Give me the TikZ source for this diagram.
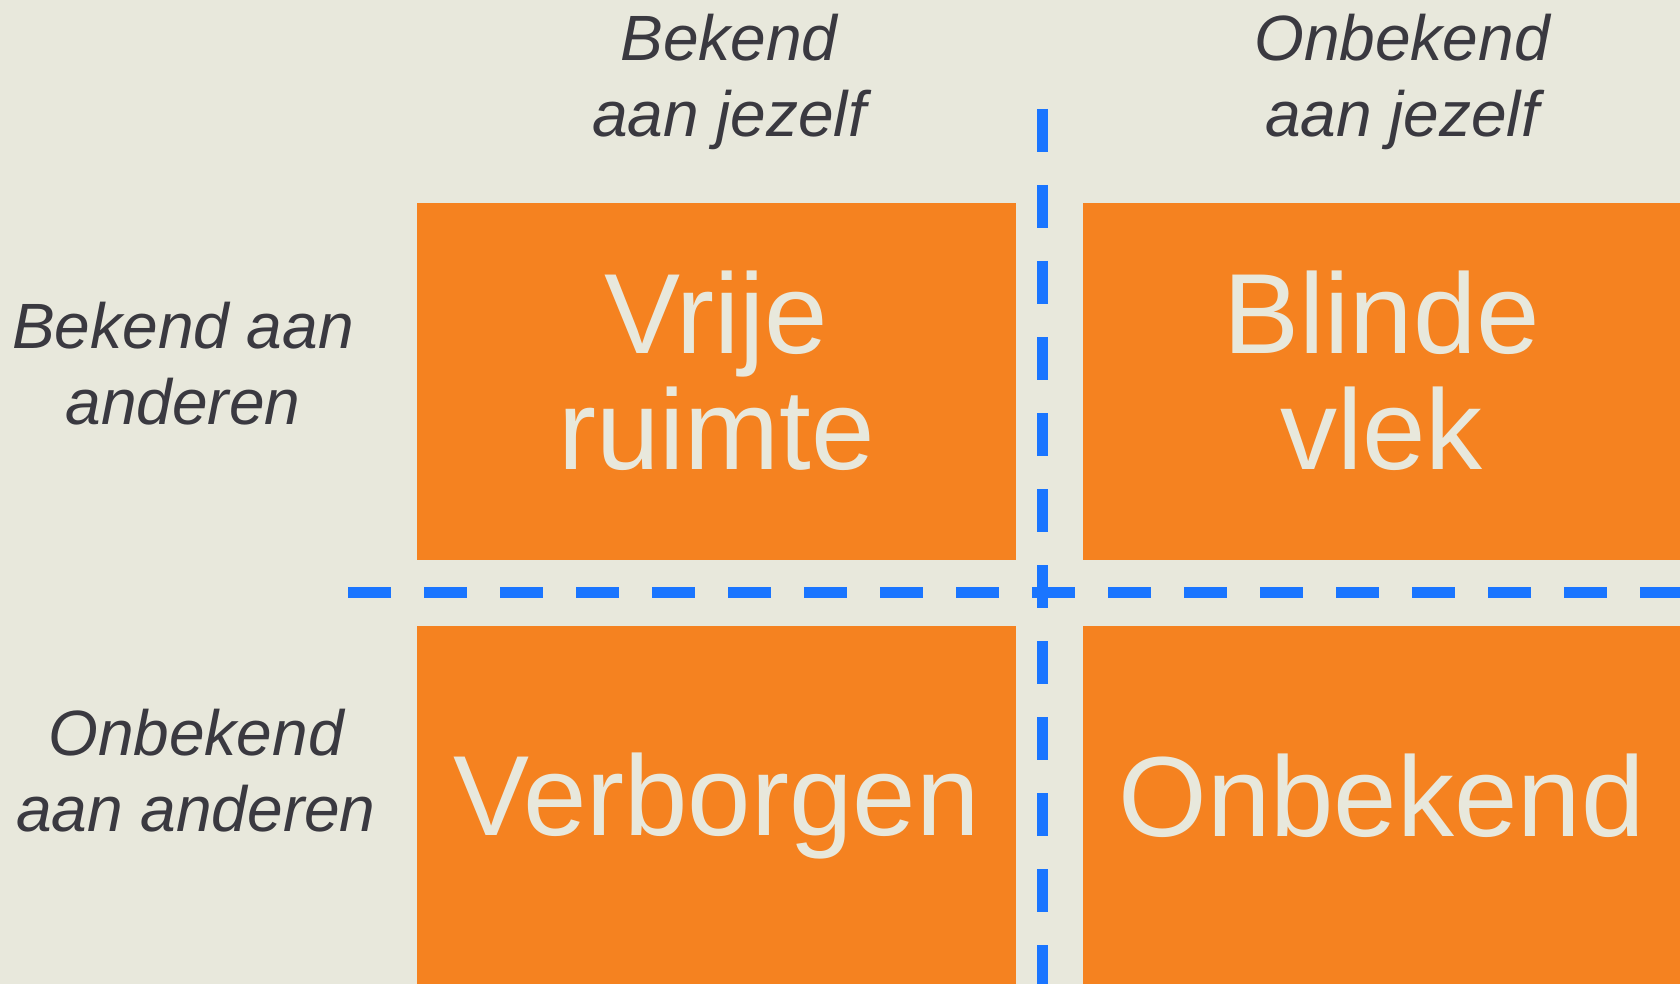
\documentclass[tikz,border=0pt]{standalone}
\usepackage{fontspec}
\setmainfont{Liberation Sans}
\usepackage{tikz}
\usetikzlibrary{positioning}

\definecolor{paper}{HTML}{E8E8DC}
\definecolor{quadorange}{HTML}{F58220}
\definecolor{lineblue}{HTML}{1A75FF}
\definecolor{inkgrey}{HTML}{3A3940}

\tikzset{
  quad/.style={fill=quadorange, inner sep=0pt},
  quadtext/.style={inner sep=0pt, text=paper, align=center,
    font=\fontsize{114}{116}\selectfont},
  side/.style={inner sep=0pt, text=inkgrey, align=center,
    font=\fontsize{64}{76}\selectfont\itshape},
  divider/.style={draw=lineblue, line width=11pt, dash pattern=on 43pt off 33pt}
}

\begin{document}
\begin{tikzpicture}[x=1pt, y=-1pt]

  % page and background
  \useasboundingbox (0,0) rectangle (1680,984);
  \fill[paper] (0,0) rectangle (1680,984);

  % --- the four quadrants ---
  \node[quad, minimum width=599pt, minimum height=357pt] (vrij)  at (716.5,381.5) {};
  \node[quad, minimum width=597pt, minimum height=357pt] (blind) at (1381.5,381.5) {};
  \node[quad, minimum width=599pt, minimum height=358pt] (verb)  at (716.5,805) {};
  \node[quad, minimum width=597pt, minimum height=358pt] (onb)   at (1381.5,805) {};

  \node[quadtext, yshift=11pt] (vrijtekst)  at (vrij)  {Vrije\\ruimte};
  \node[quadtext, yshift=11pt] (blindtekst) at (blind) {Blinde\\vlek};
  \node[quadtext, yshift=-1pt] (verbtekst)  at (verb)  {Verborgen};
  \node[quadtext, yshift=9pt]  (onbtekst)   at (onb)   {Onbekend};

  % --- column and row headings ---
  \node[side] (kolomA) at (729,82)  {Bekend\\aan jezelf};
  \node[side] (kolomB) at (1402,82) {Onbekend\\aan jezelf};
  \node[side] (rijA)   at (183,364) {Bekend aan\\anderen};
  \node[side] (rijB)   at (196,771) {Onbekend\\aan anderen};

  % --- dashed dividers ---
  \coordinate (hL) at (348,592.5);
  \coordinate (hR) at (1680,592.5);
  \coordinate (vT) at (1042,109);
  \coordinate (vB) at (1042,984);
  \draw[divider] (hL) -- (hR);
  \draw[divider] (vT) -- (vB);

\end{tikzpicture}
\end{document}
